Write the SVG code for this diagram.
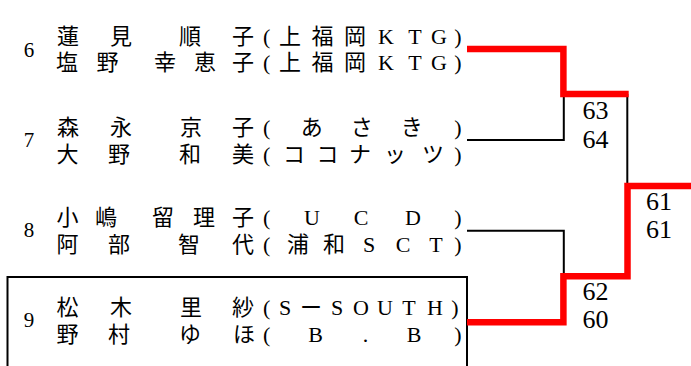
<svg xmlns="http://www.w3.org/2000/svg" width="691" height="366" viewBox="0 0 691 366">
<style>
.nm{font-family:"Liberation Serif","Noto Sans CJK JP",serif;font-size:22px;fill:#000;text-anchor:middle}
.no{font-family:"Liberation Serif",serif;font-size:21px;fill:#000;text-anchor:middle}
.sc{font-family:"Liberation Serif",serif;font-size:26px;fill:#000;text-anchor:middle}
.bk{fill:none;stroke:#000;stroke-width:2}
.rd{fill:none;stroke:#ff0000;stroke-width:6.5;stroke-linejoin:miter;stroke-linecap:butt}
</style>
<rect width="691" height="366" fill="#fff"/>
<g id="entry6">
<text class="no" x="29" y="57">6</text>
<text class="nm" x="68 121 190 243 266.7 290 322.5 355 386 415 439 458" y="44">蓮見順子(上福岡KTG)</text>
<text class="nm" x="67 107.5 165 205 243 266.7 290 322.5 355 386 415 439 458" y="70">塩野幸恵子(上福岡KTG)</text>
</g>
<g id="entry7">
<text class="no" x="29" y="146.5">7</text>
<text class="nm" x="68 121 191 243 266.7 311.7 361.7 411.7 458" y="135">森永京子(あさき)</text>
<text class="nm" x="67.5 119 190 243 266.7 294 327.5 360 395 433 458" y="161.5">大野和美(ココナッツ)</text>
</g>
<g id="entry8">
<text class="no" x="29" y="236.5">8</text>
<text class="nm" x="67.5 106 163 204 243 266.7 312 361 413 458" y="224.5">小嶋留理子(UCD)</text>
<text class="nm" x="67.5 119 189 243 266.7 298 334 369 403 436 458" y="251.5">阿部智代(浦和SCT)</text>
</g>
<g id="entry9">
<rect class="bk" x="7.5" y="277" width="459.5" height="100"/>
<text class="no" x="29" y="326.5">9</text>
<text class="nm" x="67.5 121 191 243 266.7 285 311 337 361 385 409 435 455" y="314.5">松木里紗(SーSOUTH)</text>
<text class="nm" x="67.5 119 190 244 266.7 315.5 365.5 414 458" y="341.5">野村ゆほ(B.B)</text>
</g>
<g id="connectors">
<path class="bk" d="M467,140 H563.8 V97"/>
<path class="bk" d="M467,230.7 H563.8 V276"/>
<path class="bk" d="M627.3,94 V184"/>
<path class="rd" d="M467,49 H563.4 V94 H628.7"/>
<path class="rd" d="M467,322.3 H563.4 V276.2 H627.5 V186 H691"/>
</g>
<g id="scores">
<text class="sc" x="595.5" y="119.3">63</text>
<text class="sc" x="595.5" y="147.7">64</text>
<text class="sc" x="595.5" y="300">62</text>
<text class="sc" x="595.5" y="328.3">60</text>
<text class="sc" x="659" y="210">61</text>
<text class="sc" x="659" y="238.3">61</text>
</g>
</svg>
